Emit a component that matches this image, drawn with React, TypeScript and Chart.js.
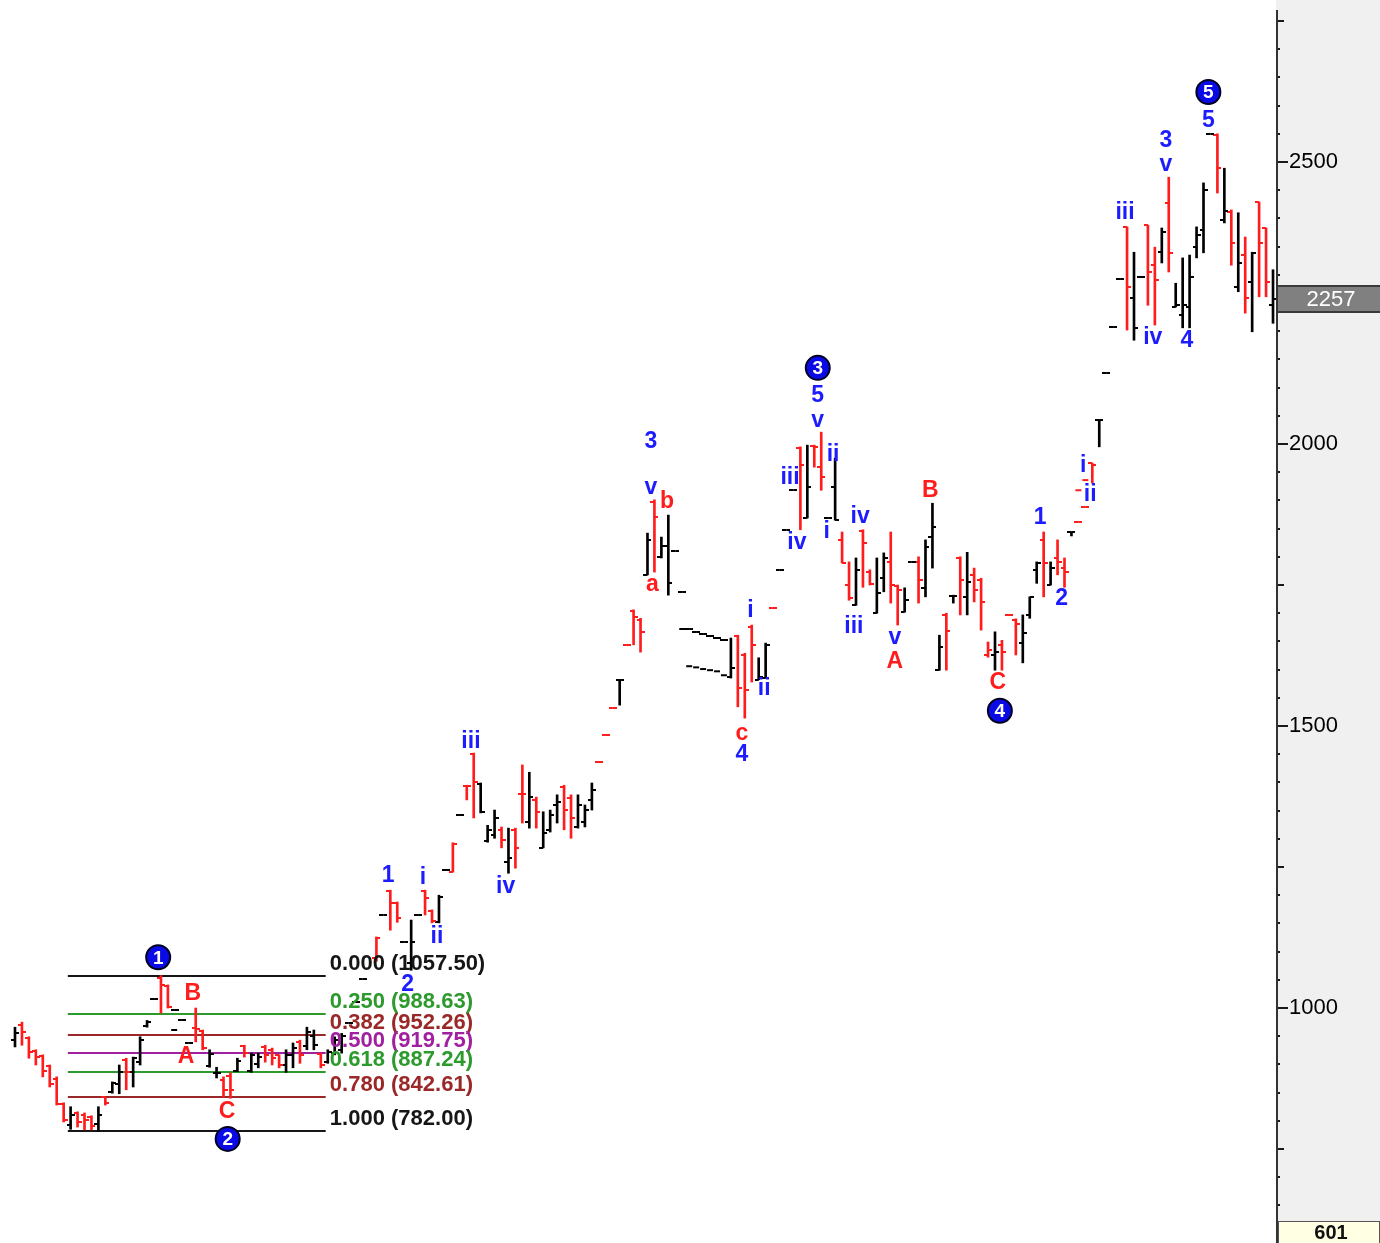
import React, { useEffect, useRef } from 'react';
import { Chart, registerables } from 'chart.js';

Chart.register(...registerables);

// ---------- OHLC data (bar index = time step) ----------
const opens: (number | null)[] = [
  943, 970, 947, 924, 915, 897, 874, 830, 793, 814,
  810, 806, 794, 842, 851, 865, 908, 886, 905, 968,
  1016, 1054, 1039, 997, 979, 938, 965, 959, 897, 885,
  872, 880, 888, 932, 888, 900, 931, 925, 917, 899,
  917, 940, 932, 950, 918, 904, 920, 925, 974, 1011,
  1051, null, 1088, 1165, 1207, 1186, 1117, 1080, 1165, 1207,
  1172, 1153, 1244, 1242, 1342, 1393, 1450, 1397, 1296, 1306,
  1316, 1259, 1316, 1379, 1330, 1369, 1284, 1316, 1360, 1392,
  1372, 1321, 1330, 1368, 1436, 1484, 1532, 1582, 1644, 1704,
  1688, 1768, 1897, 1800, 1820, 1810, 1738, 1672, 1667, 1663,
  1660, 1656, 1653, 1587, 1659, 1626, 1676, 1582, 1585, 1709,
  1777, 1848, 1918, 1993, 1869, 1996, 1959, 1869, 1924, 1830,
  1750, 1714, 1846, 1773, 1700, 1762, 1791, 1748, 1702, 1791,
  1791, 1745, 1835, 1599, 1697, 1730, 1798, 1729, 1768, 1759,
  1626, 1626, 1643, 1697, 1688, 1647, 1697, 1777, 1830, 1750,
  1798, 1780, 1844, 1862, 1888, 1966, 2043, 2126, 2207, 2293,
  2385, 2259, 2296, 2388, 2317, 2340, 2427, 2243, 2229, 2243,
  2349, 2379, 2550, 2548, 2397, 2411, 2278, 2335, 2287, 2429,
  2383, 2246,
];
const highs: (number | null)[] = [
  966, 975, 949, 926, 917, 899, 878, 832, 825, 816,
  814, 809, 825, 842, 869, 899, 911, 913, 949, 978,
  1016, 1057.5, 1041, 997, 979, 938, 1000, 961, 926, 895,
  878, 885, 911, 934, 920, 920, 934, 929, 917, 926,
  938, 943, 966, 961, 920, 926, 949, 955, 974, 1011,
  1051, null, 1126, 1165, 1209, 1188, 1117, 1156, 1165, 1209,
  1174, 1200, 1244, 1293, 1342, 1395, 1452, 1399, 1324, 1351,
  1321, 1319, 1319, 1431, 1418, 1374, 1348, 1351, 1378, 1395,
  1378, 1378, 1360, 1399, 1436, 1484, 1532, 1582, 1644, 1706,
  1691, 1842, 1901, 1835, 1874, 1810, 1738, 1672, 1667, 1663,
  1660, 1656, 1653, 1656, 1661, 1629, 1679, 1621, 1647, 1709,
  1777, 1848, 1918, 1995, 1998, 1998, 2021, 1869, 1975, 1844,
  1791, 1798, 1848, 1777, 1798, 1807, 1844, 1750, 1745, 1791,
  1800, 1830, 1895, 1661, 1700, 1732, 1800, 1808, 1780, 1762,
  1649, 1667, 1652, 1697, 1690, 1697, 1729, 1791, 1844, 1791,
  1830, 1798, 1844, 1862, 1888, 1966, 2043, 2126, 2207, 2293,
  2385, 2340, 2296, 2388, 2349, 2383, 2473, 2285, 2330, 2335,
  2385, 2463, 2550, 2550, 2489, 2415, 2410, 2367, 2340, 2429,
  2383, 2309,
];
const lows: (number | null)[] = [
  931, 934, 911, 899, 878, 860, 828, 798, 785, 789,
  784, 784, 782, 828, 849, 848, 855, 860, 899, 966,
  1016, 991, 1000, 997, 979, 938, 940, 926, 895, 876,
  842, 840, 887, 913, 886, 894, 904, 899, 894, 886,
  894, 902, 926, 926, 894, 902, 917, 920, 974, 1011,
  1051, null, 1083, 1165, 1138, 1152, 1117, 1067, 1165, 1165,
  1151, 1151, 1244, 1241, 1342, 1369, 1337, 1346, 1294, 1301,
  1284, 1239, 1248, 1328, 1319, 1319, 1284, 1312, 1328, 1316,
  1301, 1319, 1321, 1351, 1436, 1484, 1532, 1537, 1644, 1644,
  1631, 1768, 1773, 1798, 1732, 1810, 1738, 1672, 1667, 1663,
  1660, 1656, 1653, 1585, 1534, 1514, 1578, 1582, 1585, 1709,
  1777, 1848, 1918, 1848, 1869, 1959, 1918, 1869, 1865, 1789,
  1723, 1714, 1746, 1750, 1700, 1738, 1718, 1679, 1702, 1791,
  1718, 1729, 1780, 1599, 1599, 1718, 1697, 1697, 1720, 1670,
  1622, 1599, 1599, 1697, 1626, 1612, 1691, 1753, 1729, 1750,
  1768, 1746, 1837, 1862, 1888, 1931, 1995, 2126, 2207, 2293,
  2202, 2184, 2296, 2246, 2211, 2321, 2305, 2243, 2206, 2206,
  2330, 2339, 2550, 2445, 2392, 2317, 2270, 2232, 2199, 2261,
  2261, 2214,
];
const closes: (number | null)[] = [
  956, 957, 922, 913, 888, 865, 830, 801, 810, 798,
  801, 790, 810, 831, 867, 886, 886, 911, 943, 976,
  1016, 1041, 1002, 997, 979, 938, 962, 929, 919, 885,
  854, 854, 906, 920, 916, 913, 916, 911, 899, 917,
  929, 917, 958, 935, 899, 922, 943, 950, 974, 1011,
  1051, null, 1124, 1165, 1186, 1160, 1117, 1117, 1165, 1195,
  1155, 1197, 1244, 1290, 1342, 1393, 1401, 1347, 1316, 1337,
  1298, 1266, 1284, 1379, 1375, 1347, 1310, 1342, 1365, 1351,
  1337, 1360, 1351, 1386, 1436, 1484, 1532, 1582, 1644, 1694,
  1667, 1830, 1871, 1820, 1754, 1810, 1738, 1672, 1667, 1663,
  1660, 1656, 1653, 1603, 1567, 1564, 1643, 1587, 1644, 1709,
  1777, 1848, 1918, 1963, 1924, 1995, 1941, 1869, 1865, 1789,
  1727, 1777, 1824, 1752, 1736, 1798, 1750, 1741, 1723, 1791,
  1759, 1817, 1853, 1640, 1668, 1730, 1759, 1755, 1741, 1720,
  1634, 1631, 1631, 1697, 1680, 1665, 1729, 1789, 1789, 1780,
  1791, 1773, 1844, 1862, 1888, 1962, 2043, 2126, 2207, 2293,
  2278, 2206, 2296, 2305, 2291, 2376, 2339, 2246, 2246, 2296,
  2370, 2450, 2550, 2489, 2413, 2356, 2321, 2259, 2339, 2356,
  2287, 2257,
];
// bar colour code per bar: k = black, r = red
const barColorCodes: string[] = (
  'krrrrrrrkr' + 'rrkrkkrkkk' + 'krrkkkrrkk' + 'rrkrkkrrrk' + 'krkkrkkkkk' +
  'kkrkrrkkkr' + 'rkkrkrrkkk' + 'rkrrkrkkkr' + 'rkkkrrrkrr' + 'rkrkkkkkkk' +
  'kkkkrrrkkr' + 'kkkrkrrkkr' + 'rkrrkkrrkk' + 'rkkkrkrkrr' + 'rkrrrkkkrk' +
  'rrkrrrkkkk' + 'rkkrrkrkkk' + 'kkkrkrkrkr' + 'rk'
).split('');

// extra single-price prints sharing a time step with another print
const extraIdx: number[] = [22.9, 96, 97, 98, 99, 100, 101, 102, 153, 154];
const extraVal: number[] = [961, 1672, 1606, 1604, 1601, 1599, 1597, 1590, 1918, 1936];
const extraColorCodes: string[] = ['k', 'k', 'k', 'k', 'k', 'k', 'k', 'k', 'r', 'r'];

// ---------- Fibonacci retracement ----------
const fibRatios: number[] = [0, 0.25, 0.382, 0.5, 0.618, 0.78, 1];
const fibPrices: number[] = [1057.5, 988.63, 952.26, 919.75, 887.24, 842.61, 782.0];
const fibColors: string[] = ['#161616', '#2c9a2c', '#9a2828', '#a020a0', '#2c9a2c', '#9a2828', '#161616'];
const fibFromIdx = 7.6;
const fibToIdx = 44.7;
const fibLabelIdx = 45.3;

// ---------- wave labels ----------
const waveTexts: string[] = [
  '1', 'i', 'ii', '2', 'iii', 'iv', '3', 'v', 'i', 'ii', '4', '5', 'v', 'iii', 'iv',
  'ii', 'i', 'iv', 'iii', 'v', '1', '2', 'i', 'ii', 'iii', 'iv', '4', '3', 'v', '5',
  'B', 'A', 'C', 'b', 'a', 'c', 'B', 'A', 'C',
];
const waveIdx: number[] = [
  53.7, 58.7, 60.7, 56.5, 65.6, 70.6, 91.5, 91.5, 105.8, 107.8, 104.6, 115.5, 115.5, 111.5, 112.5,
  117.7, 116.8, 121.6, 120.7, 126.6, 147.5, 150.6, 153.7, 154.7, 159.7, 163.7, 168.6, 165.6, 165.6, 171.7,
  25.6, 24.6, 30.5, 93.8, 91.7, 104.6, 131.7, 126.6, 141.4,
];
const waveVals: number[] = [
  1234, 1232, 1126, 1041, 1473, 1216, 2005, 1922, 1704, 1566, 1450, 2085, 2041, 1940, 1825,
  1981, 1844, 1871, 1676, 1656, 1869, 1725, 1961, 1910, 2410, 2188, 2183, 2537, 2495, 2574,
  1025, 913, 817, 1897, 1750, 1486, 1918, 1615, 1576,
];
const waveColorCodes: string[] = [
  'b', 'b', 'b', 'b', 'b', 'b', 'b', 'b', 'b', 'b', 'b', 'b', 'b', 'b', 'b',
  'b', 'b', 'b', 'b', 'b', 'b', 'b', 'b', 'b', 'b', 'b', 'b', 'b', 'b', 'b',
  'r', 'r', 'r', 'r', 'r', 'r', 'r', 'r', 'r',
];

// circled major wave counts
const majorTexts: string[] = ['1', '2', '3', '4', '5'];
const majorIdx: number[] = [20.6, 30.6, 115.5, 141.7, 171.7];
const majorVals: number[] = [1090, 768, 2135, 1527, 2624];

// axis
const yMin = 583.4;
const yMax = 2769.5;
const xMin = -2.158;
const xMax = 181.43;
const lastPrice = 2257;
const bottomValue = '601';

const RED = '#ff1c1c';
const BLACK = '#000000';
const BLUE = '#1c1cff';
const FONT = '"Liberation Sans", Arial, sans-serif';

function codeColor(c: string) {
  return c === 'r' ? RED : BLACK;
}

function makeTick(color: string, side: 'L' | 'R') {
  const c = document.createElement('canvas');
  c.width = 8;
  c.height = 2;
  const g = c.getContext('2d')!;
  g.fillStyle = color;
  if (side === 'L') g.fillRect(0, 0, 4, 2);
  else g.fillRect(4, 0, 4, 2);
  return c;
}

function zeroPad(scale: any) {
  scale.paddingTop = 0;
  scale.paddingBottom = 0;
  scale.paddingLeft = 0;
  scale.paddingRight = 0;
}

const overlayPlugin = {
  id: 'overlay',
  beforeDraw(chart: any) {
    const { ctx, width, height, chartArea } = chart;
    ctx.save();
    ctx.fillStyle = '#ffffff';
    ctx.fillRect(0, 0, width, height);
    ctx.fillStyle = '#f0f0f0';
    ctx.fillRect(chartArea.right, 0, width - chartArea.right, height);
    ctx.restore();
  },
  beforeDatasetsDraw(chart: any) {
    const { ctx } = chart;
    const xs = chart.scales.x;
    const ys = chart.scales.y;
    ctx.save();
    const x0 = xs.getPixelForValue(fibFromIdx);
    const x1 = xs.getPixelForValue(fibToIdx);
    fibPrices.forEach((p, i) => {
      const y = Math.round(ys.getPixelForValue(p));
      ctx.fillStyle = fibColors[i];
      ctx.fillRect(x0, y - 1, x1 - x0, 2);
    });
    ctx.restore();
  },
  afterDatasetsDraw(chart: any) {
    const { ctx } = chart;
    const xs = chart.scales.x;
    const ys = chart.scales.y;
    ctx.save();
    // fib labels
    ctx.font = `bold 22px ${FONT}`;
    ctx.textAlign = 'left';
    ctx.textBaseline = 'alphabetic';
    const lx = xs.getPixelForValue(fibLabelIdx);
    fibPrices.forEach((p, i) => {
      const y = ys.getPixelForValue(p);
      ctx.fillStyle = fibColors[i];
      ctx.fillText(`${fibRatios[i].toFixed(3)} (${p.toFixed(2)})`, lx, y - 6);
    });
    // wave labels
    ctx.font = `bold 23px ${FONT}`;
    ctx.textAlign = 'center';
    ctx.textBaseline = 'middle';
    waveTexts.forEach((t, i) => {
      ctx.fillStyle = waveColorCodes[i] === 'r' ? RED : BLUE;
      ctx.fillText(t, xs.getPixelForValue(waveIdx[i]), ys.getPixelForValue(waveVals[i]));
    });
    // circled majors
    majorTexts.forEach((t, i) => {
      const cx = xs.getPixelForValue(majorIdx[i]);
      const cy = ys.getPixelForValue(majorVals[i]);
      ctx.beginPath();
      ctx.arc(cx, cy, 12, 0, Math.PI * 2);
      ctx.fillStyle = '#0a0ae6';
      ctx.fill();
      ctx.lineWidth = 2;
      ctx.strokeStyle = '#000020';
      ctx.stroke();
      ctx.fillStyle = '#ffffff';
      ctx.font = `bold 19px ${FONT}`;
      ctx.fillText(t, cx, cy + 1);
    });
    ctx.restore();
  },
  afterDraw(chart: any) {
    const { ctx, width, height, chartArea } = chart;
    const ys = chart.scales.y;
    const right = chartArea.right;
    ctx.save();
    // axis line
    ctx.fillStyle = '#333333';
    ctx.fillRect(right, chartArea.top, 2, height - chartArea.top);
    // tick marks
    ctx.fillStyle = '#1a1a1a';
    for (let v = Math.ceil(yMin / 50) * 50; v <= yMax; v += 50) {
      const y = Math.round(ys.getPixelForValue(v));
      const len = v % 500 === 0 ? 10 : v % 250 === 0 ? 6 : 2;
      ctx.fillRect(right + 2, y - 1, len, 2);
    }
    // last price box
    const py = Math.round(ys.getPixelForValue(lastPrice));
    ctx.fillStyle = '#808080';
    ctx.fillRect(right + 2, py - 13, width - right - 2, 26);
    ctx.fillStyle = '#3a3a3a';
    ctx.fillRect(right + 2, py - 14, width - right - 2, 2);
    ctx.fillRect(right + 2, py + 12, width - right - 2, 2);
    ctx.fillStyle = '#ffffff';
    ctx.font = `22px ${FONT}`;
    ctx.textAlign = 'center';
    ctx.textBaseline = 'middle';
    ctx.fillText(String(lastPrice), (right + 2 + width) / 2 + 2, py + 1);
    // bottom value box
    ctx.fillStyle = '#ffffe4';
    ctx.fillRect(right + 2, height - 22, width - right - 2, 22);
    ctx.strokeStyle = '#555555';
    ctx.lineWidth = 1;
    ctx.strokeRect(right + 2.5, height - 21.5, width - right - 3, 22);
    ctx.fillStyle = '#111111';
    ctx.font = `bold 20px ${FONT}`;
    ctx.fillText(bottomValue, (right + 2 + width) / 2 + 2, height - 10);
    ctx.restore();
  },
};

export default function App() {
  const canvasRef = useRef<HTMLCanvasElement | null>(null);

  useEffect(() => {
    const canvas = canvasRef.current;
    if (!canvas) return;

    const ticks = {
      kL: makeTick(BLACK, 'L'),
      kR: makeTick(BLACK, 'R'),
      rL: makeTick(RED, 'L'),
      rR: makeTick(RED, 'R'),
    };

    const barPts: any[] = [];
    const barCols: string[] = [];
    const openPts: any[] = [];
    const openStyles: any[] = [];
    const closePts: any[] = [];
    const closeStyles: any[] = [];
    opens.forEach((o, i) => {
      const h = highs[i];
      const l = lows[i];
      const c = closes[i];
      if (o == null || h == null || l == null || c == null) return;
      const code = barColorCodes[i];
      barPts.push({ x: i, y: [l, h] });
      barCols.push(codeColor(code));
      openPts.push({ x: i, y: o });
      openStyles.push(code === 'r' ? ticks.rL : ticks.kL);
      closePts.push({ x: i, y: c });
      closeStyles.push(code === 'r' ? ticks.rR : ticks.kR);
    });
    const extraPts = extraIdx.map((x, i) => ({ x, y: extraVal[i] }));
    const extraCols = extraColorCodes.map(codeColor);

    Chart.defaults.font.family = FONT;

    const chart = new Chart(canvas, {
      type: 'scatter',
      data: {
        datasets: [
          {
            type: 'bar',
            data: barPts,
            backgroundColor: barCols,
            borderWidth: 0,
            barThickness: 2,
            grouped: false,
            order: 3,
          } as any,
          {
            type: 'scatter',
            data: openPts,
            pointStyle: openStyles,
            pointRadius: 4,
            showLine: false,
            order: 2,
          } as any,
          {
            type: 'scatter',
            data: closePts,
            pointStyle: closeStyles,
            pointRadius: 4,
            showLine: false,
            order: 1,
          } as any,
          {
            type: 'scatter',
            data: extraPts,
            pointStyle: 'line',
            pointRadius: 3,
            borderWidth: 2,
            borderColor: extraCols,
            backgroundColor: extraCols,
            showLine: false,
            order: 0,
          } as any,
        ],
      },
      options: {
        responsive: false,
        devicePixelRatio: 1,
        animation: false,
        events: [],
        layout: { autoPadding: false, padding: { top: 10, left: 0, right: 0, bottom: 0 } },
        plugins: {
          legend: { display: false },
          tooltip: { enabled: false },
        },
        scales: {
          x: {
            type: 'linear',
            min: xMin,
            max: xMax,
            offset: false,
            display: false,
            afterFit: (scale: any) => {
              scale.height = 0;
              zeroPad(scale);
            },
          },
          y: {
            type: 'linear',
            position: 'right',
            min: yMin,
            max: yMax,
            grid: { display: false, drawTicks: false },
            border: { display: false },
            ticks: {
              stepSize: 50,
              autoSkip: false,
              padding: 13,
              color: '#000000',
              font: { size: 22, family: FONT },
              callback: (v: any) => (Number(v) % 500 === 0 ? String(v) : ''),
            },
            afterFit: (scale: any) => {
              scale.width = 104;
              zeroPad(scale);
            },
          } as any,
        },
      } as any,
      plugins: [overlayPlugin],
    });

    return () => chart.destroy();
  }, []);

  return (
    <div style={{ position: 'absolute', left: 0, top: 0, width: 1380, height: 1243 }}>
      <canvas ref={canvasRef} width={1380} height={1243} style={{ width: 1380, height: 1243, display: 'block' }} />
    </div>
  );
}
